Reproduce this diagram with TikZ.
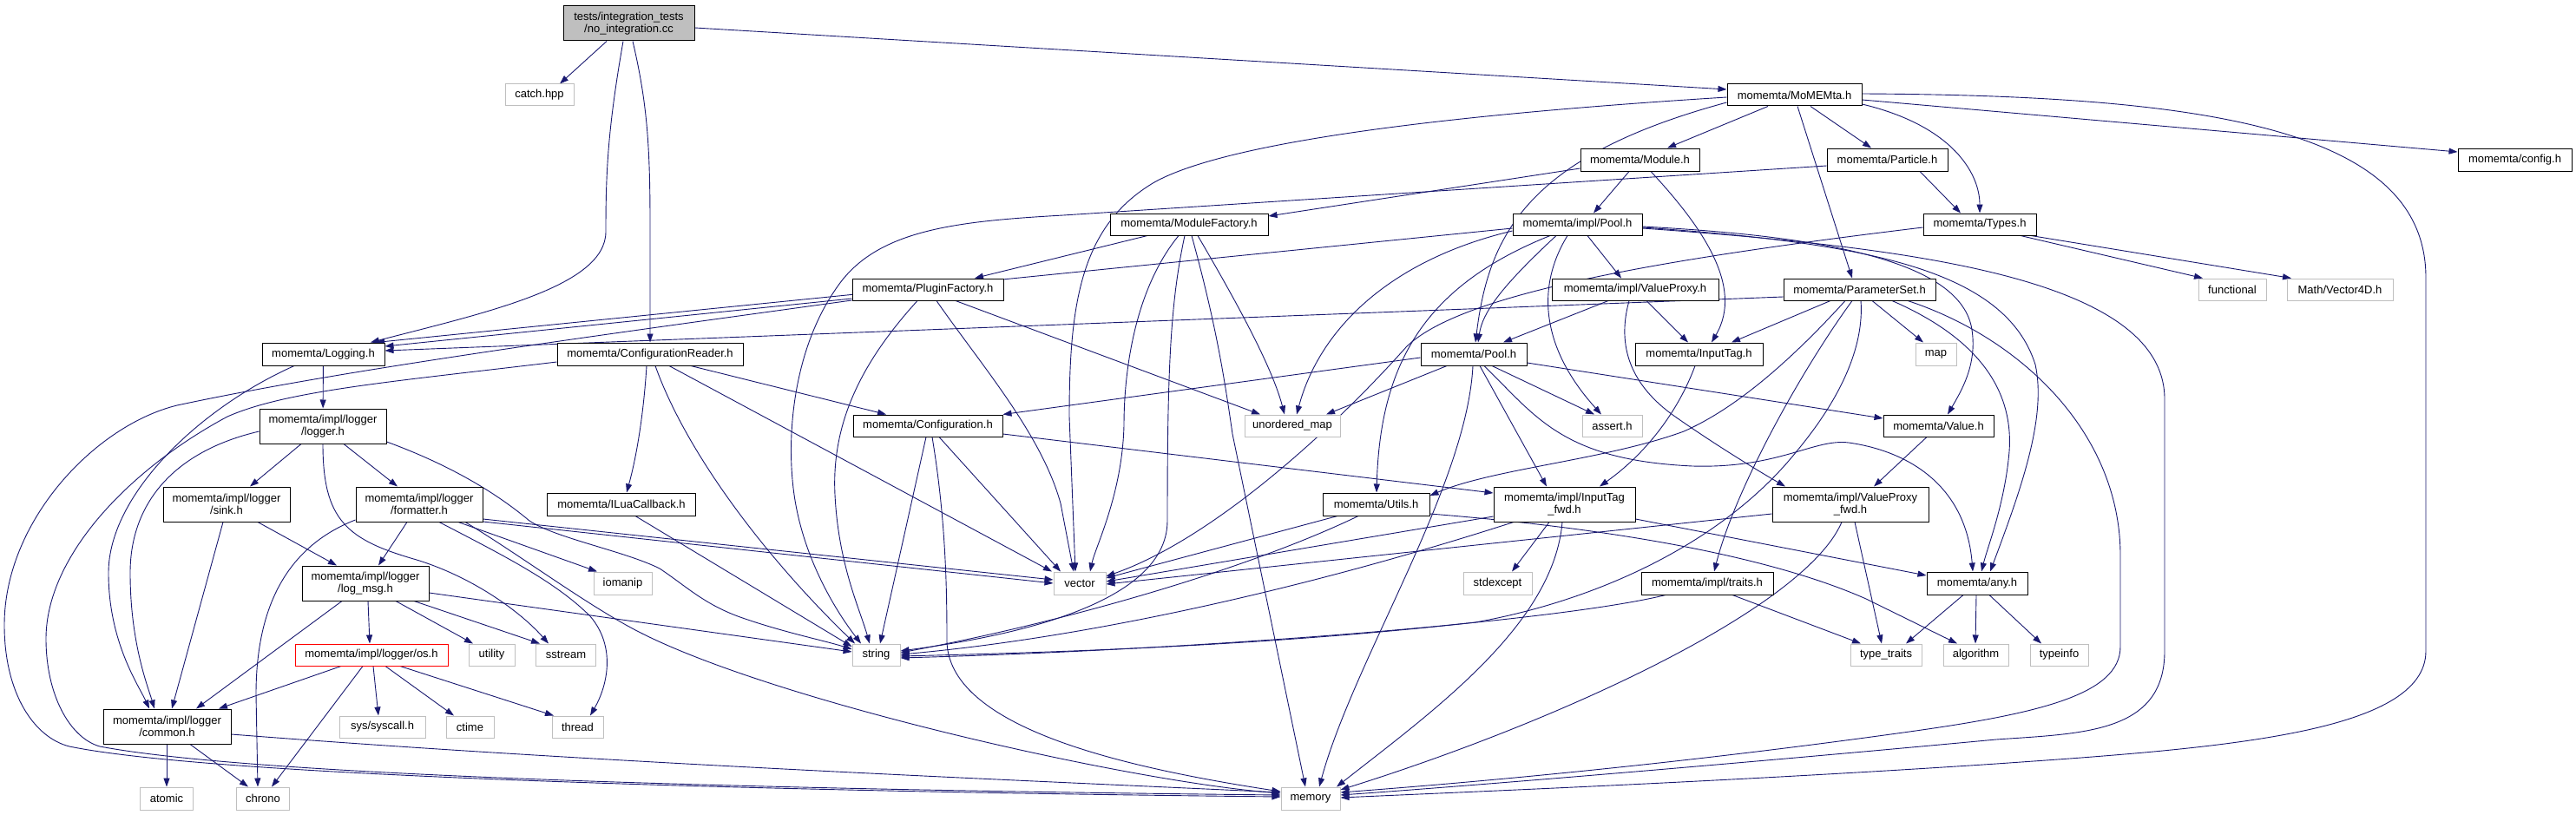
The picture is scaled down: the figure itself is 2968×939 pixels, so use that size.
\documentclass[tikz,border=0pt]{standalone}
\usepackage{fontspec}
\setmainfont{Liberation Sans}
\usetikzlibrary{arrows.meta,backgrounds}
\definecolor{edgec}{HTML}{191970}
\definecolor{extc}{HTML}{BFBFBF}
\definecolor{topfill}{HTML}{BFBFBF}
\definecolor{redc}{HTML}{FF0000}
\newcommand\doxfont{\fontsize{13}{14.5}\selectfont}
\begin{document}
\begin{tikzpicture}[x=1pt,y=-1pt,
  nb/.style={draw=black, fill=white, line width=1pt, inner sep=0pt, font=\doxfont, align=center},
  xb/.style={nb, draw=extc},
  e/.style={draw=edgec, line width=0.9pt, -{Triangle[length=10pt,width=7pt]}},
]
\useasboundingbox (0,0) rectangle (2968,939);
% ---------------- nodes ----------------
\node[nb, fill=topfill, minimum width=151pt, minimum height=40pt] (top) at (724.5,27) {tests/integration\_tests\\/no\_integration.cc};
\node[xb, minimum width=79pt, minimum height=25pt] (catch) at (621.5,109.5) {catch.hpp};
\node[nb, minimum width=141pt, minimum height=26pt] (logging) at (372.5,408) {momemta/Logging.h};
\node[nb, minimum width=214pt, minimum height=26pt] (confreader) at (749,408) {momemta/ConfigurationReader.h};
\node[nb, minimum width=155pt, minimum height=25pt] (momemta) at (2067.5,109.5) {momemta/MoMEMta.h};
\node[nb, minimum width=137pt, minimum height=26pt] (module) at (1889.5,184) {momemta/Module.h};
\node[nb, minimum width=139pt, minimum height=26pt] (particle) at (2174.5,184) {momemta/Particle.h};
\node[nb, minimum width=131pt, minimum height=26pt] (config) at (2897.5,184) {momemta/config.h};
\node[nb, minimum width=182pt, minimum height=25pt] (modfactory) at (1370,258.5) {momemta/ModuleFactory.h};
\node[nb, minimum width=149pt, minimum height=25pt] (implpool) at (1817.5,258.5) {momemta/impl/Pool.h};
\node[nb, minimum width=130pt, minimum height=25pt] (types) at (2281,258.5) {momemta/Types.h};
\node[nb, minimum width=174pt, minimum height=25pt] (pluginfactory) at (1069,333.5) {momemta/PluginFactory.h};
\node[nb, minimum width=192pt, minimum height=25pt] (valueproxy) at (1884,333.5) {momemta/impl/ValueProxy.h};
\node[nb, minimum width=175pt, minimum height=25pt] (paramset) at (2142.5,333.5) {momemta/ParameterSet.h};
\node[xb, minimum width=78pt, minimum height=25pt] (functional) at (2572,333.5) {functional};
\node[xb, minimum width=122pt, minimum height=25pt] (vector4d) at (2696,333.5) {Math/Vector4D.h};
\node[nb, minimum width=122pt, minimum height=26pt] (pool) at (1698,408) {momemta/Pool.h};
\node[nb, minimum width=147pt, minimum height=26pt] (inputtag) at (1957.5,408) {momemta/InputTag.h};
\node[xb, minimum width=47pt, minimum height=26pt] (map) at (2230.5,408) {map};
\node[nb, minimum width=172pt, minimum height=25pt] (configuration) at (1069,490.5) {momemta/Configuration.h};
\node[xb, minimum width=110pt, minimum height=25pt] (unordmap) at (1489,490.5) {unordered\_map};
\node[xb, minimum width=69pt, minimum height=25pt] (assert) at (1857.5,490.5) {assert.h};
\node[nb, minimum width=127pt, minimum height=25pt] (value) at (2233.5,490.5) {momemta/Value.h};
\node[nb, minimum width=171pt, minimum height=26pt] (iluacb) at (716,581) {momemta/ILuaCallback.h};
\node[nb, minimum width=123pt, minimum height=26pt] (utils) at (1585.5,581) {momemta/Utils.h};
\node[nb, minimum width=163pt, minimum height=40pt] (inputtagfwd) at (1802.5,581) {momemta/impl/InputTag\\\_fwd.h};
\node[nb, minimum width=180pt, minimum height=40pt] (valueproxyfwd) at (2132,581) {momemta/impl/ValueProxy\\\_fwd.h};
\node[nb, minimum width=146pt, minimum height=40pt] (logger) at (372,491) {momemta/impl/logger\\/logger.h};
\node[nb, minimum width=146pt, minimum height=40pt] (sink) at (261,581) {momemta/impl/logger\\/sink.h};
\node[nb, minimum width=146pt, minimum height=40pt] (formatter) at (483,581) {momemta/impl/logger\\/formatter.h};
\node[nb, minimum width=146pt, minimum height=40pt] (logmsg) at (421,672) {momemta/impl/logger\\/log\_msg.h};
\node[xb, minimum width=67pt, minimum height=26pt] (iomanip) at (717.5,672) {iomanip};
\node[xb, minimum width=60pt, minimum height=26pt] (vector) at (1244,672) {vector};
\node[xb, minimum width=79pt, minimum height=26pt] (stdexcept) at (1725.5,672) {stdexcept};
\node[nb, minimum width=152pt, minimum height=26pt] (traits) at (1967,672) {momemta/impl/traits.h};
\node[nb, minimum width=116pt, minimum height=26pt] (anyh) at (2278,672) {momemta/any.h};
\node[nb, draw=redc, minimum width=176pt, minimum height=25pt] (os) at (428,754.5) {momemta/impl/logger/os.h};
\node[xb, minimum width=53pt, minimum height=25pt] (utility) at (566.5,754.5) {utility};
\node[xb, minimum width=69pt, minimum height=25pt] (sstream) at (652,754.5) {sstream};
\node[xb, minimum width=55pt, minimum height=25pt] (string) at (1009.5,754.5) {string};
\node[xb, minimum width=82pt, minimum height=25pt] (typetraits) at (2173,754.5) {type\_traits};
\node[xb, minimum width=75pt, minimum height=25pt] (algorithm) at (2276.5,754.5) {algorithm};
\node[xb, minimum width=67pt, minimum height=25pt] (typeinfo) at (2372.5,754.5) {typeinfo};
\node[nb, minimum width=147pt, minimum height=40pt] (common) at (192.5,837) {momemta/impl/logger\\/common.h};
\node[xb, minimum width=99pt, minimum height=25pt] (syscall) at (440.5,837.5) {sys/syscall.h};
\node[xb, minimum width=55pt, minimum height=25pt] (ctime) at (541.5,837.5) {ctime};
\node[xb, minimum width=59pt, minimum height=25pt] (thread) at (665.5,837.5) {thread};
\node[xb, minimum width=61pt, minimum height=26pt] (atomic) at (192,920) {atomic};
\node[xb, minimum width=61pt, minimum height=26pt] (chrono) at (303,920) {chrono};
\node[xb, minimum width=68pt, minimum height=26pt] (memory) at (1510,920) {memory};
% ---------------- edges ----------------
\begin{pgfonlayer}{background}
\fill[white] (0,0) rectangle (2968,939);
% source file
\draw[e] (top.south -| 699,0) -- (catch.north -| 645,0);
\draw[e] (top.south -| 718,0) .. controls (700,150) and (698,200) .. (698,267) .. controls (698,330) and (560,360) .. (logging.north -| 427,0);
\draw[e] (top.south -| 729,0) .. controls (746,120) and (749,170) .. (749,260) -- (confreader.north -| 749,0);
\draw[e] (top.east |- 0,32) -- (momemta.west |- 0,103);
% MoMEMta.h
\draw[e] (momemta.west |- 0,112) .. controls (1700,130) and (1420,160) .. (1330,210) .. controls (1245,260) and (1232,350) .. (1232,480) -- (vector.north -| 1239,0);
\draw[e] (momemta.west |- 0,118) .. controls (1760,180) and (1715,270) .. (pool.north -| 1700,0);
\draw[e] (momemta.south -| 2037,0) -- (module.north -| 1921,0);
\draw[e] (momemta.south -| 2086,0) -- (particle.north -| 2156,0);
\draw[e] (momemta.south -| 2071,0) -- (paramset.north -| 2134,0);
\draw[e] (momemta.east |- 0,120) .. controls (2250,145) and (2281,200) .. (types.north -| 2281,0);
\draw[e] (momemta.east |- 0,115) -- (config.west |- 0,175);
\draw[e] (momemta.east |- 0,108) .. controls (2550,110) and (2795,150) .. (2795,320) -- (2795,750) .. controls (2795,845) and (2560,862) .. (2300,880) .. controls (2000,900) and (1700,912) .. (memory.east |- 0,919);
% Particle.h
\draw[e] (particle.south -| 2212,0) -- (types.north -| 2259,0);
\draw[e] (particle.west |- 0,191) -- (1225,248) .. controls (1100,255) and (1010,265) .. (965,330) .. controls (915,400) and (905,500) .. (915,570) .. controls (925,640) and (960,700) .. (string.north -| 992,0);
% Module.h
\draw[e] (module.south -| 1877,0) -- (implpool.north -| 1836,0);
\draw[e] (module.south -| 1902,0) .. controls (1960,260) and (2010,330) .. (inputtag.north -| 1972,0);
\draw[e] (module.west |- 0,194) -- (modfactory.east |- 0,249);
% ModuleFactory.h
\draw[e] (modfactory.south -| 1322,0) -- (pluginfactory.north -| 1123,0);
\draw[e] (modfactory.south -| 1358,0) .. controls (1310,330) and (1295,420) .. (1295,490) .. controls (1293,570) and (1262,630) .. (vector.north -| 1256,0);
\draw[e] (modfactory.south -| 1365,0) .. controls (1348,350) and (1345,430) .. (1345,600) .. controls (1345,700) and (1150,735) .. (string.east |- 0,750);
\draw[e] (modfactory.south -| 1373,0) .. controls (1400,370) and (1410,430) .. (1420,500) -- (memory.north -| 1504,0);
\draw[e] (modfactory.south -| 1380,0) .. controls (1420,340) and (1465,420) .. (unordmap.north -| 1480,0);
% PluginFactory.h
\draw[e] (pluginfactory.west |- 0,344) -- (logging.east |- 0,399);
\draw[e] (pluginfactory.west |- 0,346) .. controls (700,385) and (400,425) .. (204,467) .. controls (110,490) and (5,600) .. (5,720) .. controls (5,800) and (40,850) .. (80,860) .. controls (250,895) and (900,912) .. (memory.west |- 0,918);
\draw[e] (pluginfactory.south -| 1057,0) .. controls (990,420) and (958,490) .. (962,570) .. controls (966,650) and (990,700) .. (string.north -| 1002,0);
\draw[e] (pluginfactory.south -| 1079,0) .. controls (1130,420) and (1200,500) .. (1222,580) -- (vector.north -| 1237,0);
\draw[e] (pluginfactory.south -| 1101,0) -- (unordmap.north -| 1452,0);
% ConfigurationReader.h
\draw[e] (confreader.south -| 796,0) -- (configuration.north -| 1021,0);
\draw[e] (confreader.south -| 745,0) .. controls (742,470) and (735,520) .. (iluacb.north -| 722,0);
\draw[e] (confreader.south -| 755,0) .. controls (790,520) and (880,640) .. (string.north -| 985,0);
\draw[e] (confreader.south -| 771,0) -- (vector.north -| 1212,0);
\draw[e] (confreader.west |- 0,417) .. controls (450,440) and (330,450) .. (262,480) .. controls (150,540) and (53,640) .. (53,736) .. controls (53,800) and (80,850) .. (115,860) .. controls (300,895) and (900,910) .. (memory.west |- 0,916);
% Configuration.h
\draw[e] (configuration.east |- 0,500) -- (inputtagfwd.west |- 0,568);
\draw[e] (configuration.south -| 1082,0) -- (vector.north -| 1222,0);
\draw[e] (configuration.south -| 1067,0) -- (string.north -| 1014,0);
\draw[e] (configuration.south -| 1074,0) .. controls (1090,600) and (1091,680) .. (1091,740) .. controls (1095,840) and (1300,885) .. (memory.west |- 0,912);
% ILuaCallback.h
\draw[e] (iluacb.south -| 732,0) -- (string.west |- 0,745);
% Logging.h
\draw[e] (logging) -- (logger);
\draw[e] (logging.south -| 339,0) .. controls (230,470) and (125,570) .. (125,660) .. controls (125,740) and (160,790) .. (common.north -| 172,0);
% logger.h
\draw[e] (logger.west |- 0,497) .. controls (200,520) and (150,580) .. (150,660) .. controls (150,740) and (170,790) .. (common.north -| 178,0);
\draw[e] (logger.south -| 347,0) -- (sink.north -| 288,0);
\draw[e] (logger.south -| 396,0) -- (formatter.north -| 458,0);
\draw[e] (logger.south -| 372,0) .. controls (372,600) and (400,622) .. (480,645) .. controls (545,665) and (600,705) .. (sstream.north -| 632,0);
\draw[e] (logger.east |- 0,509) .. controls (530,540) and (580,575) .. (610,600) .. controls (640,620) and (720,635) .. (760,655) .. controls (790,675) and (810,695) .. (850,710) .. controls (900,728) and (950,738) .. (string.west |- 0,748);
% formatter.h
\draw[e] (formatter.east |- 0,598) -- (vector.west |- 0,668);
\draw[e] (formatter.east |- 0,601) -- (vector.west |- 0,672);
\draw[e] (formatter.south -| 469,0) -- (logmsg.north -| 436,0);
\draw[e] (formatter.west |- 0,599) .. controls (330,630) and (295,700) .. (295,800) -- (chrono.north -| 297,0);
\draw[e] (formatter.south -| 506,0) .. controls (580,640) and (640,670) .. (680,710) .. controls (710,745) and (700,790) .. (thread.north -| 680,0);
\draw[e] (formatter.south -| 528,0) -- (iomanip.north -| 688,0);
\draw[e] (formatter.south -| 536,0) .. controls (600,640) and (680,700) .. (740,730) .. controls (900,810) and (1300,900) .. (memory.west |- 0,914);
% sink.h
\draw[e] (sink.south -| 257,0) -- (common.north -| 198,0);
\draw[e] (sink.south -| 297,0) -- (logmsg.north -| 388,0);
% log_msg.h
\draw[e] (logmsg.south -| 394,0) -- (common.north -| 226,0);
\draw[e] (logmsg.south -| 424,0) -- (os.north -| 426,0);
\draw[e] (logmsg.south -| 456,0) -- (utility.north -| 545,0);
\draw[e] (logmsg.south -| 477,0) -- (sstream.north -| 622,0);
\draw[e] (logmsg.east |- 0,683) -- (string.west |- 0,751);
% os.h
\draw[e] (os.south -| 393,0) -- (common.north -| 252,0);
\draw[e] (os.south -| 418,0) -- (chrono.north -| 313,0);
\draw[e] (os.south -| 430,0) -- (syscall.north -| 436,0);
\draw[e] (os.south -| 444,0) -- (ctime.north -| 523,0);
\draw[e] (os.south -| 461,0) -- (thread.north -| 638,0);
% common.h
\draw[e] (common.south -| 192,0) -- (atomic.north -| 192,0);
\draw[e] (common.south -| 219,0) -- (chrono.north -| 286,0);
\draw[e] (common.east |- 0,846) .. controls (700,880) and (1200,900) .. (memory.west |- 0,913);
% impl/Pool.h
\draw[e] (implpool.west |- 0,263) -- (logging.north -| 433,0);
\draw[e] (implpool.west |- 0,266) .. controls (1600,300) and (1520,380) .. (unordmap.north -| 1494,0);
\draw[e] (implpool.south -| 1786,0) .. controls (1640,330) and (1590,420) .. (utils.north -| 1586,0);
\draw[e] (implpool.south -| 1793,0) .. controls (1730,330) and (1708,360) .. (pool.north -| 1703,0);
\draw[e] (implpool.south -| 1806,0) .. controls (1770,330) and (1775,400) .. (assert.north -| 1845,0);
\draw[e] (implpool.south -| 1829,0) -- (valueproxy.north -| 1868,0);
\draw[e] (implpool.east |- 0,261) .. controls (2100,272) and (2260,300) .. (2272,380) .. controls (2278,420) and (2260,450) .. (value.north -| 2244,0);
\draw[e] (implpool.east |- 0,262) .. controls (2150,280) and (2310,310) .. (2345,420) .. controls (2358,480) and (2330,560) .. (anyh.north -| 2293,0);
\draw[e] (implpool.east |- 0,263) .. controls (2200,285) and (2494,320) .. (2494,460) -- (2494,750) .. controls (2494,845) and (2400,845) .. (2300,852) .. controls (2000,880) and (1700,905) .. (memory.east |- 0,916);
% Pool.h
\draw[e] (pool.west |- 0,412) -- (configuration.north east);
\draw[e] (pool.south -| 1667,0) -- (unordmap.north -| 1528,0);
\draw[e] (pool.south -| 1697,0) .. controls (1690,560) and (1560,760) .. (memory.north -| 1520,0);
\draw[e] (pool.south -| 1705,0) -- (inputtagfwd.north -| 1782,0);
\draw[e] (pool.south -| 1710,0) .. controls (1770,480) and (1800,530) .. (1950,537) .. controls (2050,540) and (2090,505) .. (2130,510) .. controls (2200,520) and (2265,560) .. (anyh.north -| 2273,0);
\draw[e] (pool.south -| 1719,0) -- (assert.north -| 1837,0);
\draw[e] (pool.east |- 0,418) -- (value.west |- 0,482);
% ValueProxy.h
\draw[e] (valueproxy.south -| 1853,0) -- (pool.north -| 1732,0);
\draw[e] (valueproxy.south -| 1897,0) -- (inputtag.north -| 1945,0);
\draw[e] (valueproxy.south -| 1877,0) .. controls (1862,400) and (1880,445) .. (1930,480) .. controls (1980,515) and (2030,545) .. (valueproxyfwd.north -| 2057,0);
% ParameterSet.h
\draw[e] (paramset.west |- 0,342) -- (logging.east |- 0,404);
\draw[e] (paramset.south -| 2109,0) -- (inputtag.north -| 1995,0);
\draw[e] (paramset.south -| 2126,0) .. controls (2050,430) and (1990,475) .. (1940,497) .. controls (1850,530) and (1720,540) .. (utils.east |- 0,571);
\draw[e] (paramset.south -| 2134,0) .. controls (2080,420) and (2000,560) .. (traits.north -| 1975,0);
\draw[e] (paramset.south -| 2144,0) .. controls (2148,400) and (2120,460) .. (2070,520) .. controls (1990,620) and (1850,690) .. (1700,717) .. controls (1450,745) and (1200,752) .. (string.east |- 0,756);
\draw[e] (paramset.south -| 2157,0) -- (map.north -| 2216,0);
\draw[e] (paramset.south -| 2180,0) .. controls (2280,390) and (2320,450) .. (2315,520) .. controls (2310,580) and (2290,630) .. (anyh.north -| 2283,0);
\draw[e] (paramset.south -| 2198,0) .. controls (2330,390) and (2443,500) .. (2443,640) -- (2443,745) .. controls (2443,800) and (2350,822) .. (2200,843) .. controls (1900,885) and (1650,905) .. (memory.east |- 0,913);
% InputTag.h
\draw[e] (inputtag.south -| 1953,0) .. controls (1935,470) and (1900,520) .. (inputtagfwd.north -| 1843,0);
% Utils.h
\draw[e] (utils.south -| 1541,0) -- (vector.east |- 0,666);
\draw[e] (utils.south -| 1565,0) .. controls (1450,650) and (1250,712) .. (string.east |- 0,752);
\draw[e] (utils.east |- 0,592) .. controls (1900,612) and (2060,650) .. (2150,690) -- (algorithm.north -| 2255,0);
% InputTag_fwd.h
\draw[e] (inputtagfwd.west |- 0,595) -- (vector.east |- 0,670);
\draw[e] (inputtagfwd.south -| 1744,0) .. controls (1500,680) and (1250,735) .. (string.east |- 0,754);
\draw[e] (inputtagfwd.south -| 1785,0) -- (stdexcept.north -| 1742,0);
\draw[e] (inputtagfwd.south -| 1800,0) .. controls (1790,720) and (1650,820) .. (memory.north -| 1540,0);
\draw[e] (inputtagfwd.east |- 0,598) -- (anyh.west |- 0,663);
% ValueProxy_fwd.h
\draw[e] (valueproxyfwd.west |- 0,592) -- (vector.east |- 0,673);
\draw[e] (valueproxyfwd.south -| 2122,0) .. controls (2080,700) and (1800,830) .. (memory.east |- 0,910);
\draw[e] (valueproxyfwd.south -| 2137,0) -- (typetraits.north -| 2168,0);
% traits.h
\draw[e] (traits.south -| 1919,0) .. controls (1800,715) and (1400,748) .. (string.east |- 0,758);
\draw[e] (traits.south -| 1996,0) -- (typetraits.north -| 2144,0);
% any.h
\draw[e] (anyh.south -| 2262,0) -- (typetraits.north -| 2196,0);
\draw[e] (anyh.south -| 2277,0) -- (algorithm.north -| 2276,0);
\draw[e] (anyh.south -| 2292,0) -- (typeinfo.north -| 2352,0);
% Value.h
\draw[e] (value.south -| 2220,0) -- (valueproxyfwd.north -| 2159,0);
% Types.h
\draw[e] (types.west |- 0,262) .. controls (1900,300) and (1680,340) .. (1620,400) .. controls (1540,490) and (1400,620) .. (vector.east |- 0,664);
\draw[e] (types.south -| 2328,0) -- (functional.north -| 2538,0);
\draw[e] (types.south -| 2340,0) -- (vector4d.north -| 2640,0);
\end{pgfonlayer}
\end{tikzpicture}
\end{document}
